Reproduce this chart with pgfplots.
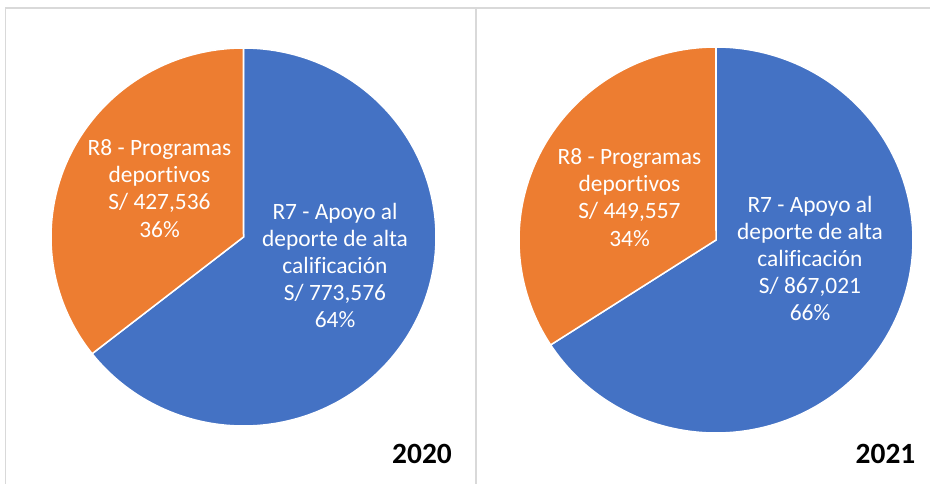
\documentclass[border=0pt]{standalone}
\usepackage{pgfplots}
\pgfplotsset{compat=1.18}
\usepackage{fontspec}
\setmainfont{Carlito}[Ligatures={NoCommon}]
\definecolor{pieblue}{RGB}{68,114,196}
\definecolor{pieorange}{RGB}{237,125,49}
\definecolor{framegray}{RGB}{217,217,217}
% data
\def\vAa{773576}\def\vAb{427536}
\def\vBa{867021}\def\vBb{449557}
\edef\angA{\fpeval{360*\vAa/(\vAa+\vAb)}}
\edef\angB{\fpeval{360*\vBa/(\vBa+\vBb)}}
\newcommand\lbl[3]{\node[anchor=base,text=white,font=\fontsize{23.5}{27}\selectfont] at (axis cs:#1,#2) {#3};}
\begin{document}
\begin{tikzpicture}
\path[use as bounding box] (0,0) rectangle (930bp,484bp);
\begin{axis}[width=930bp,height=484bp,scale only axis,
  xmin=0,xmax=930,ymin=0,ymax=484,y dir=reverse,hide axis,clip=false]
% frame
\draw[framegray,line width=1.6bp] (axis cs:5.5,484) -- (axis cs:5.5,8) -- (axis cs:930,8);
\draw[framegray,line width=1.6bp] (axis cs:476,8) -- (axis cs:476,484);
% 2020 pie
\addplot[fill=pieblue,draw=white,line width=1.5bp,domain=0:\angA,samples=150,variable=\t]
  ({243.5+192.5*sin(t)},{237-189*cos(t)}) -- (axis cs:243.5,237) -- cycle;
\addplot[fill=pieorange,draw=white,line width=1.5bp,domain=\angA:360,samples=100,variable=\t]
  ({243.5+192.5*sin(t)},{237-189*cos(t)}) -- (axis cs:243.5,237) -- cycle;
% 2021 pie
\addplot[fill=pieblue,draw=white,line width=1.5bp,domain=0:\angB,samples=150,variable=\t]
  ({716+197*sin(t)},{240-193*cos(t)}) -- (axis cs:716,240) -- cycle;
\addplot[fill=pieorange,draw=white,line width=1.5bp,domain=\angB:360,samples=100,variable=\t]
  ({716+197*sin(t)},{240-193*cos(t)}) -- (axis cs:716,240) -- cycle;
% labels 2020
\lbl{159.5}{155}{R8 - Programas}
\lbl{159.5}{182}{deportivos}
\lbl{159.5}{209.5}{S/ 427,536}
\lbl{159.5}{237}{36\%}
\lbl{335}{219}{R7 - Apoyo al}
\lbl{335}{246}{deporte de alta}
\lbl{335}{273}{calificación}
\lbl{335}{300}{S/ 773,576}
\lbl{335}{327}{64\%}
% labels 2021
\lbl{629.5}{164}{R8 - Programas}
\lbl{629.5}{191}{deportivos}
\lbl{629.5}{218.5}{S/ 449,557}
\lbl{629.5}{246}{34\%}
\lbl{810}{212}{R7 - Apoyo al}
\lbl{810}{239}{deporte de alta}
\lbl{810}{266}{calificación}
\lbl{810}{293}{S/ 867,021}
\lbl{810}{320}{66\%}
% years
\node[anchor=base,font=\fontsize{29.5}{34}\selectfont\bfseries] at (axis cs:422,463) {2020};
\node[anchor=base,font=\fontsize{29.5}{34}\selectfont\bfseries] at (axis cs:885.5,463) {2021};
\end{axis}
\end{tikzpicture}
\end{document}
